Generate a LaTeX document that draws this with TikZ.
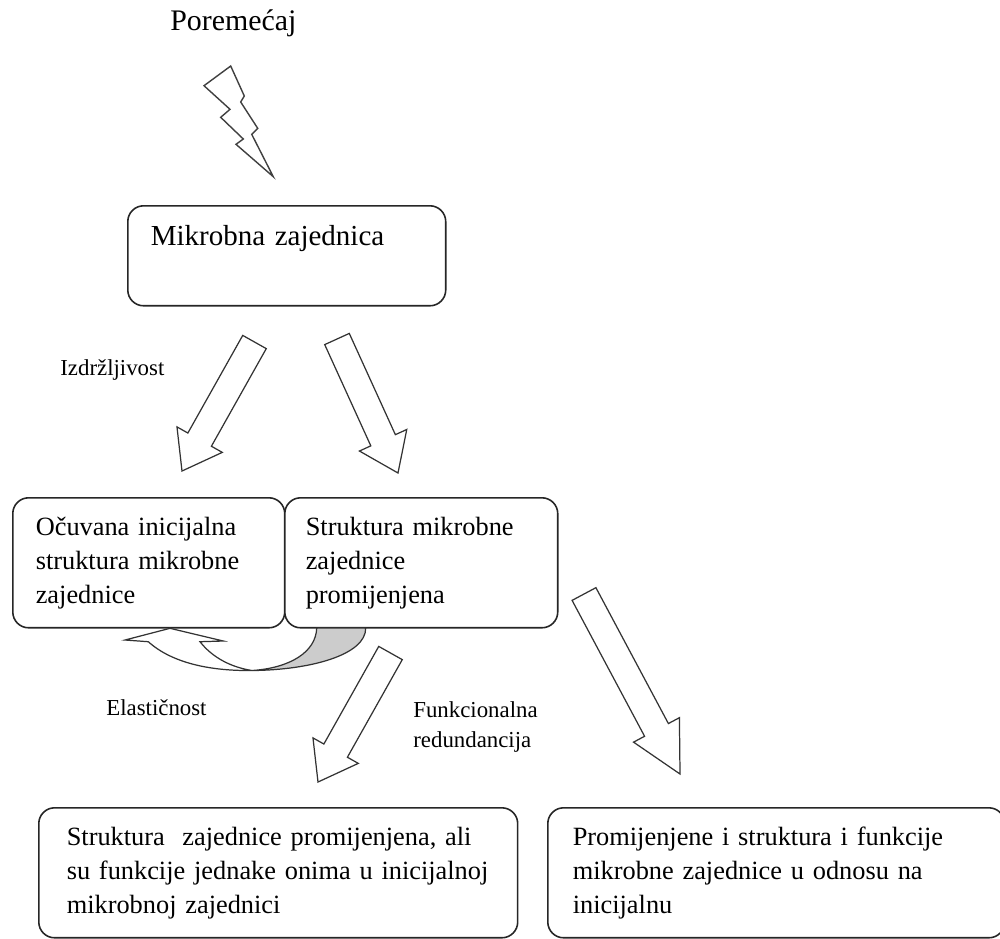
\documentclass[tikz,border=0pt]{standalone}
\usepackage{fontspec}
\setmainfont{Liberation Serif}
\usetikzlibrary{calc}

\newcommand{\boxfont}{\fontsize{15pt}{19.3pt}\selectfont}
\newcommand{\lblfont}{\fontsize{13pt}{17pt}\selectfont}

% block arrow from tail #2 to tip #3, head length #1
\newcommand{\blockarrow}[3][0.72cm]{%
  \coordinate (ba) at ($(#3)!#1!(#2)$);
  \draw[block arrow] ($(#2)!0.27cm!90:(#3)$) -- ($(ba)!0.27cm!90:(#3)$)
    -- ($(ba)!0.52cm!90:(#3)$) -- (#3) -- ($(ba)!0.52cm!-90:(#3)$)
    -- ($(ba)!0.27cm!-90:(#3)$) -- ($(#2)!0.27cm!-90:(#3)$) -- cycle;}

\begin{document}
\begin{tikzpicture}[x=0.02cm, y=-0.02cm]
    % Define styles
    \tikzstyle{box}=[draw=black!85, line width=0.9pt, rounded corners=9pt, fill=white, anchor=north west, align=left, inner ysep=0pt, minimum height=2.6cm, font=\boxfont]
    \tikzstyle{lbl}=[inner sep=0pt, anchor=base west, font=\lblfont]
    \tikzstyle{block arrow}=[draw=black!80, line width=0.7pt, fill=white, line join=miter]
    \tikzstyle{bolt}=[draw=black!75, line width=0.8pt, line join=miter]

    \useasboundingbox (0,0) rectangle (1000,938);

    % Draw the boxes
    \node[box, minimum height=0pt, inner xsep=0.46cm, text width=5.44cm, text height=0.8cm, text depth=1.2cm,
          font=\fontsize{16.5pt}{20pt}\selectfont] (mz) at (127,205) {Mikrobna zajednica};
    \node[box, inner xsep=0.46cm, text width=4.52cm] (ocuvana) at (12,497)
        {Očuvana inicijalna\\struktura mikrobne\\zajednice};
    \node[box, inner xsep=0.42cm, text width=4.62cm] (promjena) at (284,497)
        {Struktura mikrobne\\zajednice\\promijenjena};
    \node[box, inner xsep=0.56cm, text width=8.46cm] (redund) at (38,807)
        {Struktura \ zajednice promijenjena, ali\\su funkcije jednake onima u inicijalnoj\\mikrobnoj zajednici};
    \node[box, inner xsep=0.5cm, text width=8.14cm] (promfun) at (547,807)
        {Promijenjene i struktura i funkcije\\mikrobne zajednice u odnosu na\\inicijalnu};

    % Draw the labels
    \node[lbl, font=\fontsize{17pt}{20pt}\selectfont] (poremecaj) at (170,30) {Poremećaj};
    \node[lbl] (izdr) at (60,375) {Izdržljivost};
    \node[lbl] (elast) at (106,715) {Elastičnost};
    \node[lbl, anchor=north west, align=left] (funk) at (413,701) {Funkcionalna\\redundancija};

    % Draw the lightning
    \draw[bolt] (230.7,66) -- (204,85.7) -- (230,109.3) -- (220.7,117.3) -- (243.3,139) -- (236,144.3)
        -- (273.3,176.7) -- (251.7,134.3) -- (257.7,128.3) -- (240.7,102) -- (244.3,96) -- cycle;

    % Arrow end points
    \foreach \name/\x/\y in {rt/254.5/342, rh/182/471, st/337/339, sh/398/473,
                             ft/390.5/653, fh/318/782, nt/584/594, nh/680/774}
        \coordinate (\name) at (\x,\y);

    % Draw the block arrows
    \foreach \t/\h/\l in {rt/rh/0.72cm, st/sh/0.72cm, ft/fh/0.72cm, nt/nh/1cm}
        \blockarrow[\l]{\t}{\h};

    % Curved arrow back to the initial structure
    \draw[block arrow, fill=black!20] (316.7,628) .. controls (316,652) and (290,668) .. (252,670.5)
        .. controls (310,670) and (366,655) .. (365.7,628) -- cycle;
    \draw[block arrow] (252,670.5) .. controls (210,671) and (172,663) .. (148.3,641.7) -- (125,640)
        -- (170,628.3) -- (223.3,641) -- (200,641.7) .. controls (212,657) and (230,667) .. (252,670.5) -- cycle;

\end{tikzpicture}
\end{document}
